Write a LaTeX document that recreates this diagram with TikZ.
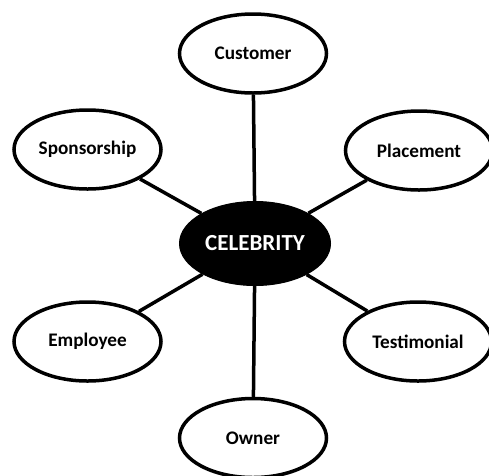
\documentclass[tikz,border=0pt]{standalone}
\usepackage{fontspec}
\setmainfont{Carlito}
\usetikzlibrary{shapes.geometric}
\begin{document}
\begin{tikzpicture}[x=1pt,y=-1pt,
    bubble/.style={ellipse,draw,line width=3.5pt,minimum width=147pt,minimum height=79pt,inner sep=0pt,font=\bfseries\fontsize{19.2}{21}\selectfont},
    hub/.style={ellipse,fill=black,draw,line width=1pt,minimum width=151pt,minimum height=84pt,inner sep=0pt,text=white,font=\bfseries\fontsize{23}{25}\selectfont},
    spoke/.style={line width=3.5pt}]
    \useasboundingbox (0,0) rectangle (489,475);

    % Define nodes
    \node[hub] (celebrity) at (255,243.5) {CELEBRITY};
    \node[bubble] (customer) at (253,53.5) {Customer};
    \node[bubble] (sponsorship) at (87.5,149.5) {Sponsorship};
    \node[bubble] (placement) at (419,150.5) {Placement};
    \node[bubble] (employee) at (87.5,341.5) {Employee};
    \node[bubble] (testimonial) at (418,341.5) {Testimonial};
    \node[bubble] (owner) at (253,438) {Owner};

    % Draw spokes
    \draw[spoke] (celebrity) -- (customer);
    \draw[spoke] (celebrity) -- (sponsorship);
    \draw[spoke] (celebrity) -- (placement);
    \draw[spoke] (celebrity) -- (employee);
    \draw[spoke] (celebrity) -- (testimonial);
    \draw[spoke] (celebrity) -- (owner);
\end{tikzpicture}
\end{document}
